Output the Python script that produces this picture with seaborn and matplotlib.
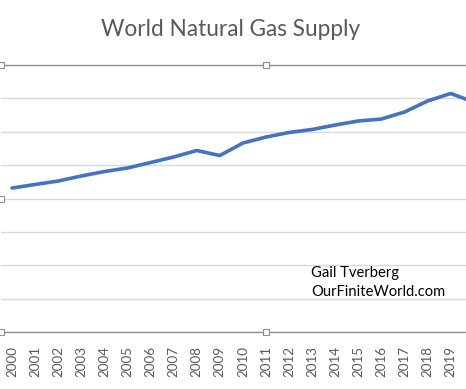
import matplotlib
matplotlib.use("Agg")
import matplotlib.pyplot as plt
import seaborn as sns
import pandas as pd
import numpy as np

years = [str(y) for y in range(2000, 2021)]
supply = [2157, 2210, 2262, 2337, 2404, 2457, 2539, 2622, 2719, 2644,
          2831, 2921, 2989, 3034, 3101, 3161, 3191, 3296, 3461, 3573, 3445]
y_ticks = [0, 500, 1000, 1500, 2000, 2500, 3000, 3500, 4000]
title = "World Natural Gas Supply"
credit = ["Gail Tverberg", "OurFiniteWorld.com"]

df = pd.DataFrame({"year": years, "supply": supply})

sns.set_theme(style="white")
plt.rcParams['font.family'] = ['Lato', 'DejaVu Sans']

W, H = 466, 389
fig = plt.figure(figsize=(W / 100, H / 100), dpi=100)
ax_left, ax_right = 0.5, 531.5
ax_top, ax_bot = 65, 332
ax = fig.add_axes([ax_left / W, (H - ax_bot) / H, (ax_right - ax_left) / W, (ax_bot - ax_top) / H])

sns.lineplot(data=df, x="year", y="supply", ax=ax, color="#4472C4", linewidth=2.6, zorder=3)

ax.set_xlim(-0.5, 22.5)
ax.set_ylim(y_ticks[0], y_ticks[-1])
ax.set_yticks(y_ticks)
ax.set_yticklabels([])
ax.tick_params(axis="y", length=0)
ax.grid(axis="y", color="#d9d9d9", linewidth=1.0)
ax.grid(axis="x", visible=False)
shown = years[:-1]  # the 2020 label falls outside the visible area
ax.set_xticks(range(len(shown)))
ax.set_xticklabels(shown, rotation=90, fontsize=9.6, color="#595959")
ax.tick_params(axis="x", length=0, pad=10)
ax.set_xlabel("")
ax.set_ylabel("")
for s in ["left", "right"]:
    ax.spines[s].set_visible(False)
for s in ["top", "bottom"]:
    ax.spines[s].set_color("#8f8f8f")
    ax.spines[s].set_linewidth(1.0)

# selection handles of the plot area
for (hx, hy) in [(0, 1), (0.5, 1), (0, 0.5), (0, 0), (0.5, 0)]:
    ax.plot(hx, hy, marker="s", markersize=4, markerfacecolor="white",
            markeredgecolor="#8f8f8f", markeredgewidth=0.8,
            transform=ax.transAxes, clip_on=False, zorder=5)

fig.text(231 / W, 1 - 30 / H, title, ha="center", va="center",
         fontsize=16.3, color="#595959")
fig.text(311 / W, 1 - 273 / H, credit[0], ha="left", va="center", fontsize=10.6, color="black")
fig.text(311 / W, 1 - 292 / H, credit[1], ha="left", va="center", fontsize=10.6, color="black")

fig.savefig("out.png", dpi=100)
